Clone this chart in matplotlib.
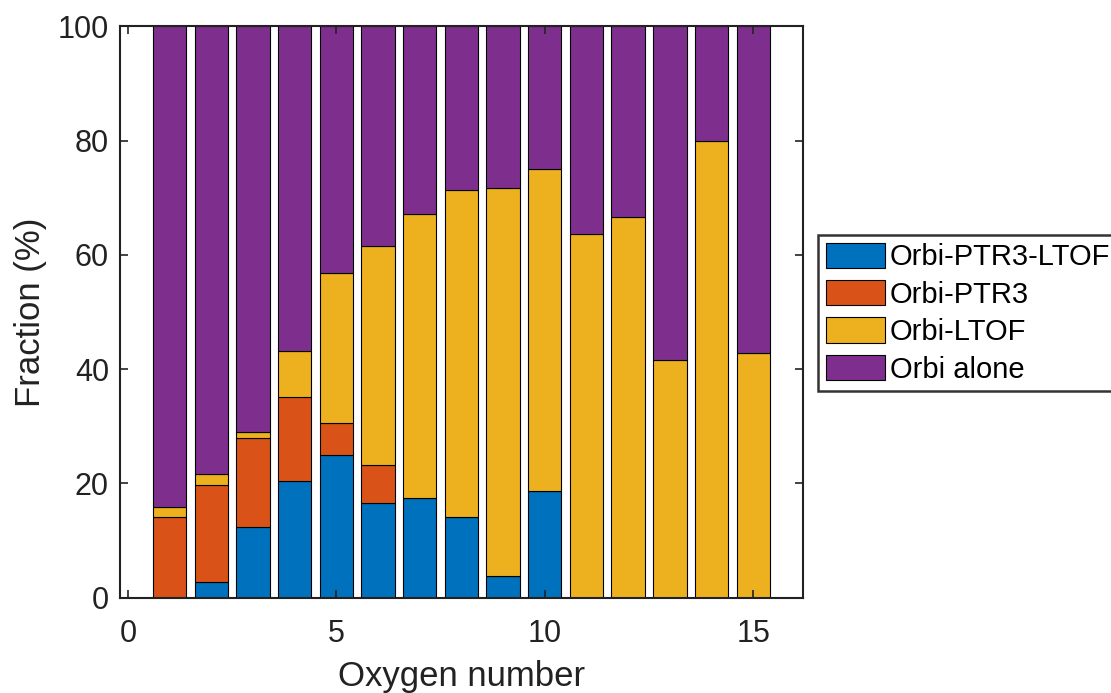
import matplotlib
matplotlib.use("Agg")
import matplotlib.pyplot as plt
import numpy as np

plt.rcParams['font.family'] = ['Liberation Sans', 'DejaVu Sans']

# oxygen number and segment sizes (%)
oxygen = np.arange(1, 16)
ptr3_ltof = [0, 2.7, 12.4, 20.4, 25.0, 16.6, 17.4, 14.1, 3.85, 18.75, 0, 0, 0, 0, 0]
ptr3 = [14.1, 17.0, 15.5, 14.7, 5.5, 6.7, 0, 0, 0, 0, 0, 0, 0, 0, 0]
ltof = [1.7, 1.9, 1.1, 8.1, 26.4, 38.2, 49.8, 57.3, 67.95, 56.25, 63.6, 66.7, 41.7, 80.0, 42.9]
alone = [84.2, 78.4, 71.0, 56.8, 43.1, 38.5, 32.8, 28.6, 28.2, 25.0, 36.4, 33.3, 58.3, 20.0, 57.1]

labels = ['Orbi-PTR3-LTOF', 'Orbi-PTR3', 'Orbi-LTOF', 'Orbi alone']
colors = ['#0072BD', '#D95319', '#EDB120', '#7E2F8E']

fig = plt.figure(figsize=(11.11, 6.93), dpi=100)
ax = fig.add_axes([0.108, 0.1375, 0.615, 0.8243])

bottom = np.zeros(len(oxygen))
handles = []
for vals, lab, col in zip([ptr3_ltof, ptr3, ltof, alone], labels, colors):
    b = ax.bar(oxygen, vals, width=0.8, bottom=bottom, color=col,
               edgecolor='black', linewidth=0.8, label=lab)
    handles.append(b)
    bottom = bottom + np.array(vals)

ax.set_xlim(-0.19, 16.2)
ax.set_ylim(0, 100)
ax.set_xticks([0, 5, 10, 15])
ax.set_yticks([0, 20, 40, 60, 80, 100])
ax.tick_params(direction='in', length=6, width=1.2, labelsize=22,
               top=True, right=True, colors='#222222')
ax.tick_params(axis='x', pad=15)
ax.tick_params(axis='y', pad=8)
for s in ax.spines.values():
    s.set_linewidth(1.5)
    s.set_color('#222222')

ax.set_xlabel('Oxygen number', fontsize=25, color='#222222', labelpad=8)
ax.set_ylabel('Fraction (%)', fontsize=25, color='#222222', labelpad=8)

leg = fig.legend(handles=handles, labels=labels, loc='upper left',
                 bbox_to_anchor=(818 / 1111, 1 - 235 / 693), fontsize=21,
                 frameon=True, fancybox=False, borderpad=0.26,
                 handlelength=2.02, handleheight=0.96, handletextpad=0.18,
                 labelspacing=0.3, borderaxespad=0)
leg.get_frame().set_edgecolor('black')
leg.get_frame().set_linewidth(1.8)

fig.savefig('out.png', dpi=100)
